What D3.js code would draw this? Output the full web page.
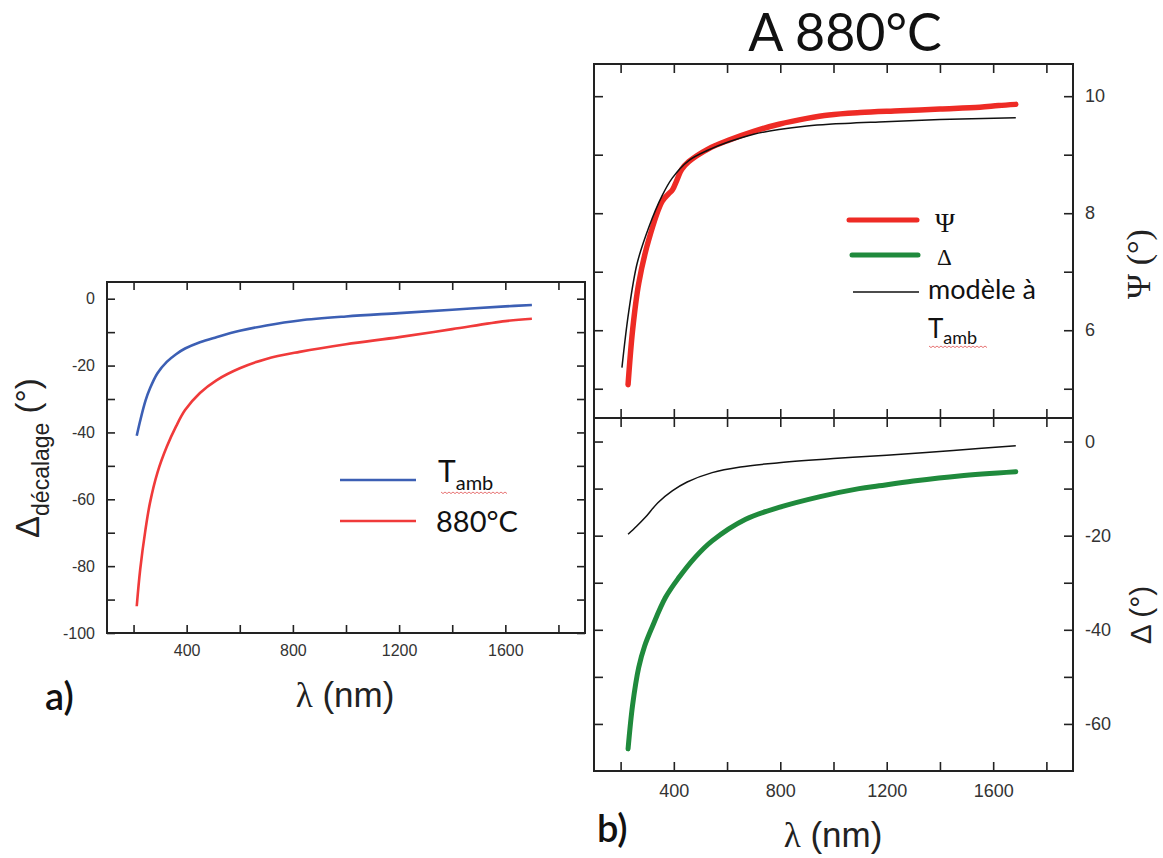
<!DOCTYPE html>
<html>
<head>
<meta charset="utf-8">
<script src="https://cdnjs.cloudflare.com/ajax/libs/d3/7.8.5/d3.min.js"></script>
<style>
  body { margin: 0; background: #fff; }
  svg { display: block; }
  .tick text { font-family: "Liberation Sans", Arial, sans-serif; fill: #333; }
  .tick line { stroke: #222; stroke-width: 1.6; }
</style>
</head>
<body>
<svg width="1163" height="858"></svg>
<script>
// ---- data ----
// panel a) : Δ décalage vs λ
const lambdaA = [212, 225, 245, 262, 290, 325, 360, 394, 450, 512, 600, 700, 825, 1000, 1200, 1400, 1600, 1700];
const decalageAmb = [-41, -36.5, -30.5, -26.8, -22.3, -18.9, -16.6, -14.9, -13, -11.5, -9.6, -8, -6.5, -5.3, -4.3, -3.3, -2.3, -1.9];
const decalage880 = [-92, -81, -69, -61, -52, -44.3, -38.2, -33.3, -28.2, -24.4, -20.8, -18, -15.9, -13.6, -11.5, -9.1, -6.7, -6];

// panel b) top : Ψ
const lambdaPsi = [228, 245, 268, 306, 356, 380, 395, 410, 430, 456, 530, 607, 700, 795, 900, 983, 1100, 1250, 1400, 1550, 1620, 1685];
const psiMeas = [5.07, 6.0, 6.8, 7.55, 8.2, 8.33, 8.4, 8.55, 8.75, 8.88, 9.1, 9.25, 9.4, 9.52, 9.62, 9.68, 9.72, 9.75, 9.78, 9.81, 9.84, 9.86];
const lambdaPsiModel = [205, 230, 262, 306, 356, 394, 456, 530, 607, 700, 795, 900, 983, 1171, 1400, 1685];
const psiModel = [5.36, 6.3, 7.14, 7.76, 8.3, 8.6, 8.9, 9.08, 9.22, 9.35, 9.43, 9.49, 9.52, 9.56, 9.6, 9.63];

// panel b) bottom : Δ
const lambdaDelta = [228, 245, 268, 290, 318, 369, 419, 480, 544, 670, 795, 950, 1096, 1171, 1300, 1472, 1685];
const deltaMeas = [-65.3, -56, -48, -43.5, -39.5, -33.1, -28.9, -24.6, -21.1, -16.5, -14, -11.7, -10, -9.4, -8.4, -7.3, -6.4];
const lambdaDeltaModel = [228, 260, 293, 340, 394, 450, 544, 650, 795, 1000, 1200, 1450, 1685];
const deltaModel = [-19.7, -18, -16.1, -13, -10.5, -8.6, -6.6, -5.4, -4.5, -3.6, -2.9, -1.9, -0.9];

const lambdaTicks = [200, 400, 600, 800, 1000, 1200, 1400, 1600, 1800];
const lambdaLabels = [400, 800, 1200, 1600];

const svg = d3.select("svg");
const sans = '"Liberation Sans", Arial, sans-serif';
const serif = '"Liberation Serif", "Times New Roman", serif';
const calib = 'Lato, "Open Sans", sans-serif';

const zip = (xs, ys) => xs.map((d, i) => [d, ys[i]]);

function frame(g, x0, y0, x1, y1) {
  g.append("rect")
    .attr("x", x0).attr("y", y0)
    .attr("width", x1 - x0).attr("height", y1 - y0)
    .attr("fill", "none").attr("stroke", "#222").attr("stroke-width", 2);
}

// red spell-check squiggle under "amb"
function wavy(g, x0, x1, y) {
  let p = `M${x0},${y}`;
  for (let x = x0, k = 0; x < x1; x += 2, k++) p += `L${x + 2},${y + (k % 2 ? 0 : 1.6)}`;
  g.append("path").attr("d", p).attr("fill", "none").attr("stroke", "#e05050").attr("stroke-width", 0.8);
}

// ================= panel a =================
const xa = d3.scaleLinear().domain([100, 1900]).range([107, 585]);
const ya = d3.scaleLinear().domain([-100, 5]).range([633, 282]);
const ga = svg.append("g");

ga.append("g").attr("transform", "translate(0,633)")
  .call(d3.axisBottom(xa).tickValues(lambdaTicks).tickSize(-8).tickPadding(12)
    .tickFormat(d => lambdaLabels.includes(d) ? d : ""))
  .call(g => g.select(".domain").remove())
  .selectAll("text").attr("font-size", 16);
ga.append("g").attr("transform", "translate(0,282)")
  .call(d3.axisTop(xa).tickValues(lambdaTicks).tickSize(-8).tickFormat(""))
  .call(g => g.select(".domain").remove());
ga.append("g").attr("transform", "translate(107,0)")
  .call(d3.axisLeft(ya).tickValues(d3.range(-100, 1, 10)).tickSize(-8).tickPadding(12)
    .tickFormat(d => d % 20 === 0 ? d : ""))
  .call(g => g.select(".domain").remove())
  .selectAll("text").attr("font-size", 16);
ga.append("g").attr("transform", "translate(585,0)")
  .call(d3.axisRight(ya).tickValues(d3.range(-100, 1, 10)).tickSize(-8).tickFormat(""))
  .call(g => g.select(".domain").remove());
frame(ga, 107, 282, 585, 633);

const lineA = d3.line().x(d => xa(d[0])).y(d => ya(d[1])).curve(d3.curveCatmullRom.alpha(0.5));
ga.append("path").attr("d", lineA(zip(lambdaA, decalageAmb)))
  .attr("fill", "none").attr("stroke", "#3c5fb4").attr("stroke-width", 2.6);
ga.append("path").attr("d", lineA(zip(lambdaA, decalage880)))
  .attr("fill", "none").attr("stroke", "#f03a3a").attr("stroke-width", 2.6);

// legend a
ga.append("line").attr("x1", 340).attr("x2", 416).attr("y1", 480).attr("y2", 480)
  .attr("stroke", "#3c5fb4").attr("stroke-width", 2.6);
ga.append("line").attr("x1", 340).attr("x2", 416).attr("y1", 521).attr("y2", 521)
  .attr("stroke", "#f03a3a").attr("stroke-width", 2.6);
const tA = ga.append("text").attr("x", 438).attr("y", 482).attr("font-family", calib).attr("font-size", 30).attr("fill", "#111");
tA.append("tspan").text("T");
tA.append("tspan").attr("font-size", 20).attr("dy", 8).text("amb");
wavy(ga, 441, 506, 492);
ga.append("text").attr("x", 436).attr("y", 532).attr("font-family", calib).attr("font-size", 29)
  .attr("fill", "#111").text("880°C");

// axis titles a
const yTitleA = ga.append("text").attr("transform", "translate(39,538) rotate(-90)")
  .attr("font-family", sans).attr("font-size", 33).attr("fill", "#222");
yTitleA.append("tspan").text("Δ");
yTitleA.append("tspan").attr("font-size", 23).attr("dy", 10).text("décalage");
yTitleA.append("tspan").attr("dy", -10).text(" (°)");

const xTitleA = ga.append("text").attr("x", 345).attr("y", 707).attr("text-anchor", "middle")
  .attr("font-family", sans).attr("font-size", 35).attr("fill", "#222");
xTitleA.append("tspan").attr("font-family", serif).text("λ");
xTitleA.append("tspan").text(" (nm)");

ga.append("text").attr("x", 45).attr("y", 710).attr("font-family", calib).attr("font-size", 38)
  .attr("font-weight", 600).attr("fill", "#111").text("a)");

// ================= panel b =================
const xb = d3.scaleLinear().domain([100, 1900]).range([594, 1073]);
const yPsi = d3.scaleLinear().domain([4.5, 10.55]).range([418, 64]);
const yDel = d3.scaleLinear().domain([-70, 5]).range([771, 418]);
const gb = svg.append("g");

// x ticks: top, divider (both sides), bottom
gb.append("g").attr("transform", "translate(0,64)")
  .call(d3.axisTop(xb).tickValues(lambdaTicks).tickSize(-9).tickFormat(""))
  .call(g => g.select(".domain").remove());
gb.append("g").attr("transform", "translate(0,418)")
  .call(d3.axisBottom(xb).tickValues(lambdaTicks).tickSize(-9).tickFormat(""))
  .call(g => g.select(".domain").remove());
gb.append("g").attr("transform", "translate(0,418)")
  .call(d3.axisTop(xb).tickValues(lambdaTicks).tickSize(-9).tickFormat(""))
  .call(g => g.select(".domain").remove());
gb.append("g").attr("transform", "translate(0,771)")
  .call(d3.axisBottom(xb).tickValues(lambdaTicks).tickSize(-9).tickPadding(13)
    .tickFormat(d => lambdaLabels.includes(d) ? d : ""))
  .call(g => g.select(".domain").remove())
  .selectAll("text").attr("font-size", 18);

// Ψ axis
gb.append("g").attr("transform", "translate(594,0)")
  .call(d3.axisLeft(yPsi).tickValues(d3.range(5, 11)).tickSize(-9).tickFormat(""))
  .call(g => g.select(".domain").remove());
gb.append("g").attr("transform", "translate(1073,0)")
  .call(d3.axisRight(yPsi).tickValues(d3.range(5, 11)).tickSize(-9).tickPadding(12)
    .tickFormat(d => d % 2 === 0 ? d : ""))
  .call(g => g.select(".domain").remove())
  .selectAll("text").attr("font-size", 18);
// Δ axis
gb.append("g").attr("transform", "translate(594,0)")
  .call(d3.axisLeft(yDel).tickValues(d3.range(-60, 1, 10)).tickSize(-9).tickFormat(""))
  .call(g => g.select(".domain").remove());
gb.append("g").attr("transform", "translate(1073,0)")
  .call(d3.axisRight(yDel).tickValues(d3.range(-60, 1, 10)).tickSize(-9).tickPadding(12)
    .tickFormat(d => d % 20 === 0 ? d : ""))
  .call(g => g.select(".domain").remove())
  .selectAll("text").attr("font-size", 18);

frame(gb, 594, 64, 1073, 418);
frame(gb, 594, 418, 1073, 771);

const smooth = d3.curveCatmullRom.alpha(0.5);
const linePsi = d3.line().x(d => xb(d[0])).y(d => yPsi(d[1])).curve(smooth);
const lineDel = d3.line().x(d => xb(d[0])).y(d => yDel(d[1])).curve(smooth);

gb.append("path").attr("d", linePsi(zip(lambdaPsi, psiMeas)))
  .attr("fill", "none").attr("stroke", "#ee2b25").attr("stroke-width", 5.5).attr("stroke-linecap", "round");
gb.append("path").attr("d", linePsi(zip(lambdaPsiModel, psiModel)))
  .attr("fill", "none").attr("stroke", "#111").attr("stroke-width", 1.5);
gb.append("path").attr("d", lineDel(zip(lambdaDelta, deltaMeas)))
  .attr("fill", "none").attr("stroke", "#1f8a3c").attr("stroke-width", 5).attr("stroke-linecap", "round");
gb.append("path").attr("d", lineDel(zip(lambdaDeltaModel, deltaModel)))
  .attr("fill", "none").attr("stroke", "#111").attr("stroke-width", 1.5);

// legend b
gb.append("line").attr("x1", 849).attr("x2", 917).attr("y1", 220).attr("y2", 220)
  .attr("stroke", "#ee2b25").attr("stroke-width", 5).attr("stroke-linecap", "round");
gb.append("line").attr("x1", 852).attr("x2", 918).attr("y1", 255).attr("y2", 255)
  .attr("stroke", "#1f8a3c").attr("stroke-width", 5).attr("stroke-linecap", "round");
gb.append("line").attr("x1", 853).attr("x2", 919).attr("y1", 292).attr("y2", 292)
  .attr("stroke", "#111").attr("stroke-width", 1.5);
gb.append("text").attr("x", 935).attr("y", 232).attr("font-family", serif).attr("font-size", 27)
  .attr("fill", "#111").text("Ψ");
gb.append("text").attr("x", 937).attr("y", 265).attr("font-family", serif).attr("font-size", 23)
  .attr("fill", "#111").text("Δ");
gb.append("text").attr("x", 928).attr("y", 299).attr("font-family", calib).attr("font-size", 27)
  .attr("fill", "#111").text("modèle à");
const tB = gb.append("text").attr("x", 928).attr("y", 338).attr("font-family", calib).attr("font-size", 26).attr("fill", "#111");
tB.append("tspan").text("T");
tB.append("tspan").attr("font-size", 18).attr("dy", 6).text("amb");
wavy(gb, 929, 987, 346);

// titles b
gb.append("text").attr("x", 845).attr("y", 51).attr("text-anchor", "middle")
  .attr("font-family", calib).attr("font-size", 52).attr("fill", "#111").text("A 880°C");

gb.append("text").attr("transform", "translate(1150,264) rotate(-90)").attr("text-anchor", "middle")
  .attr("font-family", serif).attr("font-size", 34).attr("fill", "#222").text("Ψ (°)");
gb.append("text").attr("transform", "translate(1151,615) rotate(-90)").attr("text-anchor", "middle")
  .attr("font-family", sans).attr("font-size", 30).attr("fill", "#222").text("Δ (°)");

const xTitleB = gb.append("text").attr("x", 833).attr("y", 847).attr("text-anchor", "middle")
  .attr("font-family", sans).attr("font-size", 35).attr("fill", "#222");
xTitleB.append("tspan").attr("font-family", serif).text("λ");
xTitleB.append("tspan").text(" (nm)");

gb.append("text").attr("x", 597).attr("y", 842).attr("font-family", calib).attr("font-size", 38)
  .attr("font-weight", 600).attr("fill", "#111").text("b)");
</script>
</body>
</html>
